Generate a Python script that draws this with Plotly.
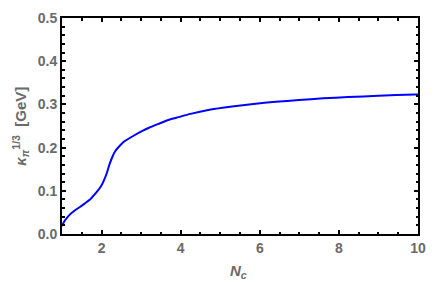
import plotly.graph_objects as go

# Data
nc_values = [1.0, 1.05, 1.12, 1.21, 1.33, 1.46, 1.58, 1.70, 1.80, 1.91, 1.99, 2.06, 2.14, 2.20, 2.28, 2.34, 2.41, 2.57, 2.82, 3.02, 3.20, 3.44, 3.69, 3.89, 4.25, 4.76, 5.3, 5.84, 6.4, 6.99, 7.6, 8.23, 9.0, 9.93, 10.0]
kappa_values = [0.018, 0.028, 0.037, 0.046, 0.055, 0.063, 0.071, 0.079, 0.089, 0.101, 0.111, 0.124, 0.143, 0.161, 0.180, 0.191, 0.199, 0.214, 0.228, 0.238, 0.246, 0.255, 0.264, 0.269, 0.278, 0.288, 0.295, 0.301, 0.306, 0.310, 0.314, 0.317, 0.320, 0.323, 0.323]

x_ticks = [2, 4, 6, 8, 10]
y_ticks = [0.0, 0.1, 0.2, 0.3, 0.4, 0.5]
y_tick_text = ["0.0", "0.1", "0.2", "0.3", "0.4", "0.5"]

gray = "#6a6a6a"
font_family = "Liberation Sans, Arial, sans-serif"

fig = go.Figure()
fig.add_trace(go.Scatter(
    x=nc_values, y=kappa_values, mode="lines",
    line=dict(color="#0000ff", width=2, shape="spline", smoothing=0.5),
    showlegend=False, hoverinfo="skip",
))

axis_common = dict(
    showline=True, linecolor="black", linewidth=2, mirror="allticks",
    ticks="inside", ticklen=4, tickwidth=1.5, tickcolor="black",
    showgrid=False, zeroline=False,
    tickfont=dict(family=font_family, size=14, color=gray, weight="bold"),
)

fig.update_xaxes(
    range=[1, 10], tickvals=x_ticks, ticktext=[str(v) for v in x_ticks],
    minor=dict(dtick=0.5, ticks="inside", ticklen=2.5, tickwidth=1.5, tickcolor="black", showgrid=False),
    **axis_common,
)
fig.update_yaxes(
    range=[0, 0.5], tickvals=y_ticks, ticktext=y_tick_text,
    minor=dict(dtick=0.02, ticks="inside", ticklen=2.5, tickwidth=1.5, tickcolor="black", showgrid=False),
    **axis_common,
)

fig.add_annotation(
    text="<i>N<sub>c</sub></i>", xref="paper", yref="paper", x=0.497, y=-0.174,
    showarrow=False, font=dict(family=font_family, size=15, color=gray, weight="bold"),
    xanchor="center", yanchor="middle",
)
fig.add_annotation(
    text="<i>κ<sub>π</sub></i><sup>1/3</sup>  [GeV]", xref="paper", yref="paper", x=-0.119, y=0.5,
    showarrow=False, textangle=-90,
    font=dict(family=font_family, size=15, color=gray, weight="bold"),
    xanchor="center", yanchor="middle",
)

fig.update_layout(
    width=436, height=285,
    margin=dict(l=62, r=12, t=10, b=51),
    paper_bgcolor="white", plot_bgcolor="white",
)

fig.write_html("out.html", config={"displayModeBar": False},
               post_script="document.body.style.margin='0';")
